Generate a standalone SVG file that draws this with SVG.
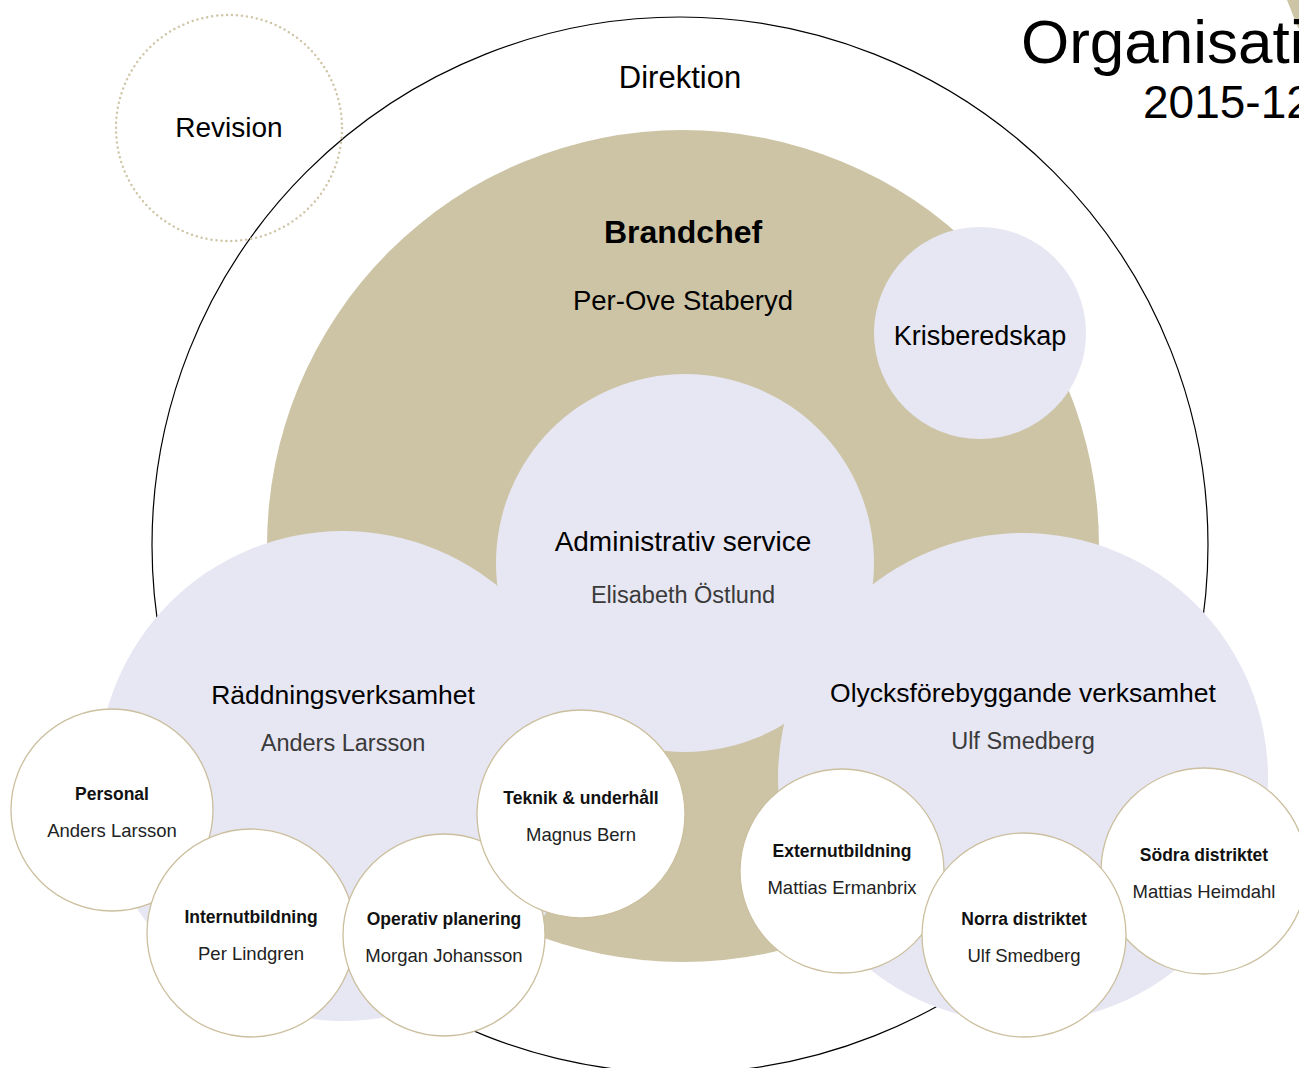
<svg xmlns="http://www.w3.org/2000/svg" width="1299" height="1068" viewBox="0 0 1299 1068">
<style>
text{font-family:"Liberation Sans",Arial,sans-serif;text-anchor:middle;fill:#000}
.tan{fill:#CDC4A6}
.lav{fill:#E7E6F3}
.small{fill:#fff;stroke:#CBBF9E;stroke-width:1.3}
.b{font-weight:bold;font-size:17.5px;fill:#111}
.n{font-size:18.5px;fill:#222}
.big{font-size:26.5px}
.sub{font-size:23.5px;fill:#3a3a3a}
</style>
<rect width="1299" height="1068" fill="#fff"/>
<polygon points="1287,0 1299,0 1299,28 1298,28" class="tan"/>
<g id="title">
<text x="1021" y="63" style="text-anchor:start;font-size:62px">Organisation</text>
<text x="1143" y="118" style="text-anchor:start;font-size:46px">2015-12</text>
</g>
<g id="direktion">
<circle cx="680" cy="545" r="528" fill="none" stroke="#000" stroke-width="1.2"/>
<text x="680" y="88" style="font-size:31px">Direktion</text>
</g>
<g id="revision">
<circle cx="229" cy="128" r="113" fill="none" stroke="#CFC6A8" stroke-width="2.5" stroke-dasharray="0 5" stroke-linecap="round"/>
<text x="229" y="137" style="font-size:28px">Revision</text>
</g>
<g id="brandchef">
<circle cx="683" cy="546" r="416" class="tan"/>
<text x="683" y="243" style="font-size:32px;font-weight:bold">Brandchef</text>
<text x="683" y="310" style="font-size:27.5px">Per-Ove Staberyd</text>
</g>
<g id="krisberedskap">
<circle cx="980" cy="333" r="106" class="lav"/>
<text x="980" y="345" style="font-size:27px">Krisberedskap</text>
</g>
<g id="raddningsverksamhet">
<circle cx="343" cy="776" r="245" class="lav"/>
</g>
<g id="olycksforebyggande">
<circle cx="1023" cy="778" r="245" class="lav"/>
</g>
<g id="administrativ">
<circle cx="685" cy="563" r="189" class="lav"/>
<text x="683" y="551" style="font-size:28px">Administrativ service</text>
<text x="683" y="603" class="sub">Elisabeth Östlund</text>
</g>
<g id="labels-main">
<text x="343" y="704" class="big">Räddningsverksamhet</text>
<text x="343" y="751" class="sub">Anders Larsson</text>
<text x="1023" y="702" class="big">Olycksförebyggande verksamhet</text>
<text x="1023" y="749" class="sub">Ulf Smedberg</text>
</g>
<g id="connectors"></g>
<g id="personal">
<circle cx="112" cy="810" r="101" class="small"/>
<text x="112" y="800" class="b">Personal</text>
<text x="112" y="837" class="n">Anders Larsson</text>
</g>
<g id="internutbildning">
<circle cx="251" cy="933" r="104" class="small"/>
<text x="251" y="923" class="b">Internutbildning</text>
<text x="251" y="960" class="n">Per Lindgren</text>
</g>
<g id="operativ">
<circle cx="444" cy="935" r="101" class="small"/>
<text x="444" y="925" class="b">Operativ planering</text>
<text x="444" y="962" class="n">Morgan Johansson</text>
</g>
<g id="teknik">
<circle cx="581" cy="814" r="104" class="small"/>
<text x="581" y="804" class="b">Teknik &amp; underhåll</text>
<text x="581" y="841" class="n">Magnus Bern</text>
</g>
<g id="externutbildning">
<circle cx="842" cy="871" r="102" class="small"/>
<text x="842" y="857" class="b">Externutbildning</text>
<text x="842" y="894" class="n">Mattias Ermanbrix</text>
</g>
<g id="sodra">
<circle cx="1204" cy="871" r="103" class="small"/>
<text x="1204" y="861" class="b">Södra distriktet</text>
<text x="1204" y="898" class="n">Mattias Heimdahl</text>
</g>
<g id="norra">
<circle cx="1024" cy="935" r="102" class="small"/>
<text x="1024" y="925" class="b">Norra distriktet</text>
<text x="1024" y="962" class="n">Ulf Smedberg</text>
</g>
</svg>
